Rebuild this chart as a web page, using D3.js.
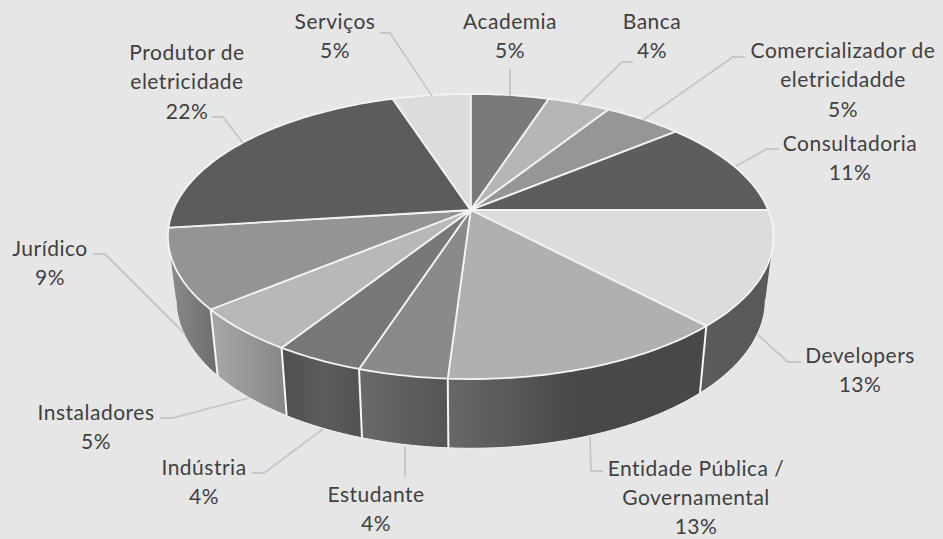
<!DOCTYPE html>
<html lang="pt">
<head>
<meta charset="utf-8">
<script src="https://cdn.jsdelivr.net/npm/d3@7/dist/d3.min.js"></script>
<style>
html,body{margin:0;padding:0;background:#e7e6e6;overflow:hidden}
svg{display:block}
text{font-family:Lato,"Noto Sans",sans-serif;font-size:21px;letter-spacing:.5px;fill:#404040;text-anchor:middle}
</style>
</head>
<body>
<svg id="chart" width="943" height="539"></svg>
<script>
// Data, clockwise from the top of the pie
const categories = ["Academia","Banca","Comercializador de eletricidadde","Consultadoria","Developers","Entidade Pública / Governamental","Estudante","Indústria","Instaladores","Jurídico","Produtor de eletricidade","Serviços"];
const shares = [5,4,5,11,13,13,4,4,5,9,22,5];
const labelLines = [["Academia"],["Banca"],["Comercializador de","eletricidadde"],["Consultadoria"],["Developers"],["Entidade Pública /","Governamental"],["Estudante"],["Indústria"],["Instaladores"],["Jurídico"],["Produtor de","eletricidade"],["Serviços"]];

// Styles
const topColors = ["#7a7a7a","#b6b6b6","#969696","#5d5d5d","#dcdcdc","#b0b0b0","#8a8a8a","#787878","#b8b8b8","#949494","#5c5c5c","#dcdcdc"];
const wallStops = [null,null,null,null,["#5b5b5b","#585858"],["#686868","#484848","#484848"],["#6a6a6a","#545454"],["#4e4e4e","#5c5c5c","#525252"],["#a8a8a8","#868686"],["#8c8c8c","#6c6c6c"],null,null];

// Layout of labels: centre x, first baseline, line gap; leader polyline
const labelX = [510,652,843,850,860,696,376,204,96,50,187,335];
const labelY = [29,29,58,151,363,476,502,475,420,256,60,29];
const labelGap = [29.3,29.3,29.3,29.3,29.3,28.8,29.3,29.3,29.3,29.3,29.3,29.3];
const leaders = [
  [[510,69],[510,96]],
  [[633,62],[622,62],[579,104]],
  [[745,57],[733,57],[643,120]],
  [[779,149],[767,149],[736,166]],
  [[801,362],[788,362],[758,335]],
  [[603,471],[591,471],[590,437]],
  [[405,477],[405,446]],
  [[252,473],[264,473],[323,429]],
  [[160,418],[172,418],[249,398]],
  [[93,254],[105,254],[184,333]],
  [[212,117],[223,117],[243,143]],
  [[380,33],[390,33],[432,96]]
];

const W = 943, H = 539;
const svg = d3.select("#chart");
svg.append("rect").attr("width",W).attr("height",H).attr("fill","#e7e6e6");
const defs = svg.append("defs");

// Perspective projection of a tilted disc: top and bottom planes
const persp = 0.186;
const topPlane = {cx:470.7, cy:210, a:297.5, b:137.6};
const botPlane = {cx:470.7, cy:272, a:289.5, b:143.5};
function project(theta, p){
  const u = Math.sin(theta), v = -Math.cos(theta), d = 1 - persp*v;
  return [p.cx + p.a*u/d, p.cy + p.b*v/d];
}
const line = d3.line();
const arcs = d3.pie().sort(null).value(d=>d)(shares);
const STEP = Math.PI/180;
function sweep(a0,a1){
  const n = Math.max(1, Math.ceil((a1-a0)/STEP));
  return d3.range(n+1).map(i=>a0+(a1-a0)*i/n);
}

// Where the disc's outline is tangent: walls are only visible between these angles
const tangentRight = Math.PI - Math.acos(persp);
const tangentLeft = Math.PI + Math.acos(persp);

// Side walls (front half only)
const wallG = svg.append("g");
arcs.forEach((arc,i)=>{
  if(!wallStops[i]) return;
  const angles = sweep(Math.max(arc.startAngle,tangentRight), Math.min(arc.endAngle,tangentLeft));
  const topPts = angles.map(t=>project(t,topPlane));
  const botPts = angles.map(t=>project(t,botPlane)).reverse();
  const xs = topPts.concat(botPts).map(p=>p[0]);
  const id = "wall"+i;
  const grad = defs.append("linearGradient").attr("id",id).attr("gradientUnits","userSpaceOnUse")
    .attr("x1",d3.min(xs)).attr("x2",d3.max(xs)).attr("y1",0).attr("y2",0);
  wallStops[i].forEach((c,k,all)=>grad.append("stop").attr("offset",k/(all.length-1)).attr("stop-color",c));
  wallG.append("path").attr("d",line(topPts.concat(botPts))+"Z").attr("fill",`url(#${id})`);
});

// Bottom rim highlight
wallG.append("path").attr("d",line(sweep(tangentRight,tangentLeft).map(t=>project(t,botPlane))))
  .attr("fill","none").attr("stroke","#f4f4f4").attr("stroke-width",1);

// Seams between visible walls
arcs.forEach((arc,i)=>{
  if(i<4 || i>8) return;
  wallG.append("path").attr("d",line([project(arc.endAngle,topPlane),project(arc.endAngle,botPlane)]))
    .attr("fill","none").attr("stroke","#f6f6f6").attr("stroke-width",2);
});

// Top face
const topG = svg.append("g");
arcs.forEach((arc,i)=>{
  const pts = [[topPlane.cx,topPlane.cy]].concat(sweep(arc.startAngle,arc.endAngle).map(t=>project(t,topPlane)));
  topG.append("path").attr("d",line(pts)+"Z").attr("fill",topColors[i])
    .attr("stroke","#f4f4f4").attr("stroke-width",1.8).attr("stroke-linejoin","round");
});

// Leader lines
svg.append("g").selectAll("path").data(leaders).join("path")
  .attr("d",d=>line(d)).attr("fill","none").attr("stroke","#c6c6c6").attr("stroke-width",1.8);

// Labels
const labels = svg.append("g").selectAll("text").data(categories).join("text")
  .attr("y",(d,i)=>labelY[i]);
labels.each(function(d,i){
  const t = d3.select(this);
  const rows = labelLines[i].concat(shares[i]+"%");
  rows.forEach((r,k)=>t.append("tspan").attr("x",labelX[i]).attr("dy",k?labelGap[i]:0).text(r));
});
</script>
</body>
</html>
